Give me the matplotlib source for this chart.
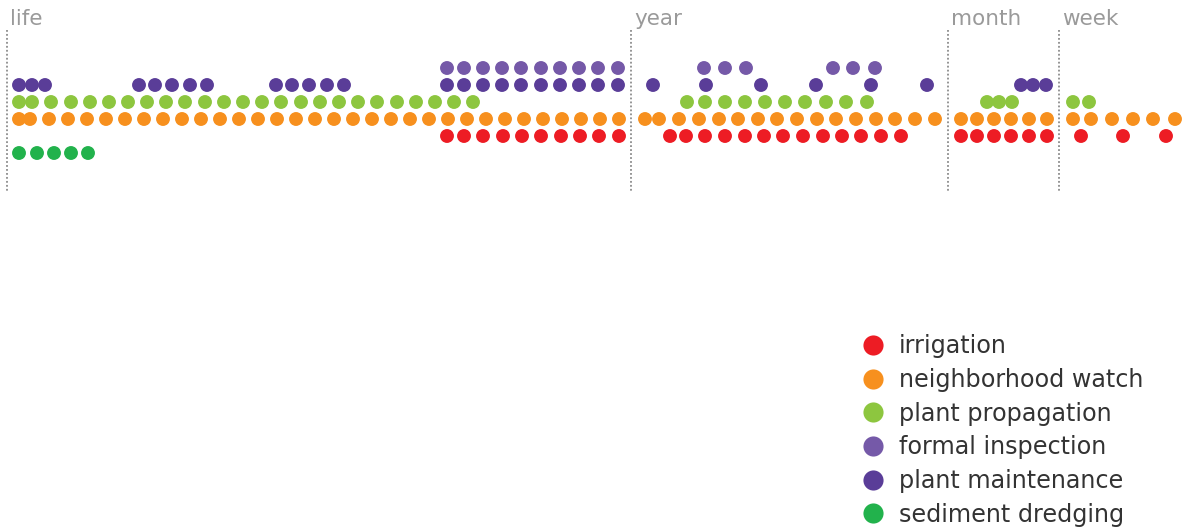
import matplotlib
matplotlib.use("Agg")
import matplotlib.pyplot as plt
from matplotlib.lines import Line2D

# --- Timeline data: x position of each event along the timeline ---
sections = ["life", "year", "month", "week"]
section_starts = [7, 631, 948, 1059]

categories = ["formal inspection", "plant maintenance", "plant propagation",
              "neighborhood watch", "irrigation", "sediment dredging"]

formal_inspection = [447, 464, 483, 502, 521, 541, 560, 579, 598, 618,
                     704, 725, 746, 833, 853, 875]
plant_maintenance = [19, 32, 45, 139, 155, 172, 190, 207,
                     276, 292, 309, 327, 344,
                     447, 464, 483, 502, 521, 541, 560, 579, 598, 618,
                     653, 706, 761, 816, 871, 927,
                     1021, 1033, 1046]
plant_propagation = [19, 32, 51, 71, 90, 109, 128, 147, 166, 185, 205, 224,
                     243, 262, 281, 301, 320, 339, 358, 377, 397, 416, 435,
                     454, 473,
                     687, 705, 725, 745, 765, 785, 805, 826, 846, 867,
                     987, 999, 1012,
                     1073, 1089]
neighborhood_watch = [19, 30, 49, 68, 87, 106, 125, 144, 163, 182, 201, 220,
                      239, 258, 277, 296, 315, 334, 353, 372, 391, 410, 429,
                      448, 467, 486, 505, 524, 543, 562, 581, 600, 619,
                      645, 659, 679, 699, 719, 738, 758, 777, 797, 817, 836,
                      856, 876, 895, 915, 935,
                      961, 977, 994, 1011, 1029, 1047,
                      1073, 1091, 1112, 1133, 1153, 1175]
irrigation = [447, 464, 483, 503, 522, 541, 561, 580, 599, 619,
              670, 686, 705, 725, 745, 764, 783, 803, 823, 842, 861, 881, 901,
              961, 977, 994, 1011, 1029, 1047,
              1081, 1123, 1166]
sediment_dredging = [19, 37, 54, 71, 88]

series = [formal_inspection, plant_maintenance, plant_propagation,
          neighborhood_watch, irrigation, sediment_dredging]
colors = {
    "formal inspection": "#7559a8",
    "plant maintenance": "#5a3d98",
    "plant propagation": "#8dc63f",
    "neighborhood watch": "#f7901e",
    "irrigation": "#ed1c24",
    "sediment dredging": "#22b24c",
}
legend_order = ["irrigation", "neighborhood watch", "plant propagation",
                "formal inspection", "plant maintenance", "sediment dredging"]

# --- Layout (pixels) ---
W, H = 1188, 530
ROW0, ROW_H = 68, 17          # first row centre and row pitch in px

plt.rcParams["font.family"] = ["DejaVu Sans"]

fig = plt.figure(figsize=(W / 100, H / 100), dpi=100)
ax = fig.add_axes([0, 0, 1, 1])
ax.set_xlim(0, W)
ax.set_ylim((H - ROW0) / ROW_H, -ROW0 / ROW_H)   # y in row units
ax.axis("off")

# event dots
for row, (name, xs) in enumerate(zip(categories, series)):
    ax.scatter(xs, [row] * len(xs), s=100, color=colors[name],
               edgecolors="none", zorder=3)

# section dividers and titles
for label, x0 in zip(sections, section_starts):
    ax.plot([x0, x0], [(30 - ROW0) / ROW_H, (191 - ROW0) / ROW_H],
            color="#8c8c8c", lw=1.3, linestyle=(0, (1, 1.2)), zorder=1)
    ax.text(x0 + 3, (25 - ROW0) / ROW_H, label, fontsize=15.5,
            color="#9a9a9a", ha="left", va="baseline")

handles = [Line2D([], [], marker="o", linestyle="none", markersize=14.5,
                  markerfacecolor=colors[n], markeredgecolor="none")
           for n in legend_order]
fig.legend(handles, legend_order, loc="upper left",
           bbox_to_anchor=(849 / W, 1 - 334.5 / H), frameon=False,
           labelcolor="#333333", handletextpad=0.076,
           labelspacing=0.402, borderpad=0, borderaxespad=0,
           prop={"size": 17.2})

fig.savefig("out.png", dpi=100)
